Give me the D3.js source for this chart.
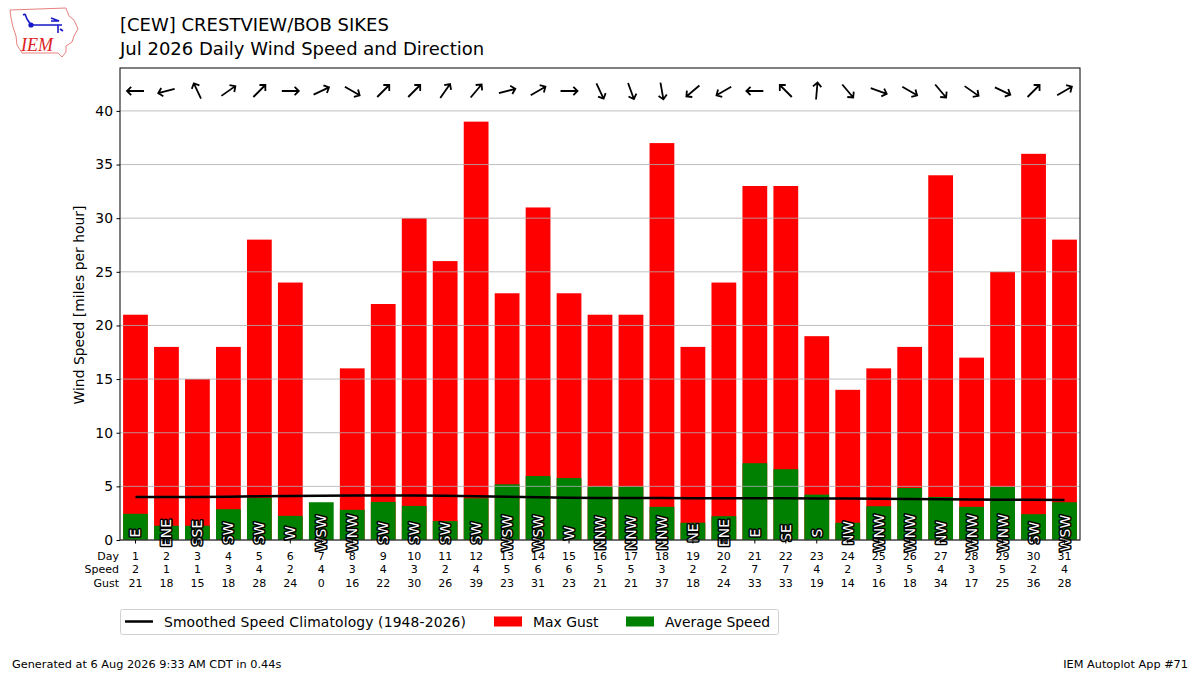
<!DOCTYPE html>
<html>
<head>
<meta charset="utf-8">
<script src="https://cdn.jsdelivr.net/npm/d3@7"></script>
<style>
  body { margin: 0; background: #fff; }
  svg { font-family: "DejaVu Sans", sans-serif; }
</style>
</head>
<body>
<svg id="chart" width="1200" height="675"></svg>
<script>
// daily values, Jul 2026 at CEW
const days = d3.range(1, 32);
const avgSpeed = [2.44, 1.33, 1.33, 2.87, 3.92, 2.25, 3.52, 2.81, 3.55, 3.18, 1.76, 3.89, 5.19, 5.96, 5.77,
    4.98, 4.98, 3.09, 1.61, 2.22, 7.16, 6.6, 4.23, 1.61, 3.15, 4.85, 4.01, 3.09, 4.94, 2.41, 3.52];
const maxGust = [21, 18, 15, 18, 28, 24, 0, 16, 22, 30, 26, 39, 23, 31, 23,
    21, 21, 37, 18, 24, 33, 33, 19, 14, 16, 18, 34, 17, 25, 36, 28];
const dirDeg = [90, 75, 155, 235, 225, 270, 245, 300, 225, 225, 215, 220, 255, 240, 270,
    335, 340, 350, 50, 60, 90, 135, 185, 320, 290, 300, 320, 305, 295, 225, 240];
const dirText = ['E', 'ENE', 'SSE', 'SW', 'SW', 'W', 'WSW', 'WNW', 'SW', 'SW', 'SW', 'SW', 'WSW', 'WSW', 'W',
    'NNW', 'NNW', 'NNW', 'NE', 'ENE', 'E', 'SE', 'S', 'NW', 'WNW', 'WNW', 'NW', 'WNW', 'WNW', 'SW', 'WSW'];
const climo = [4.0, 4.0, 4.0, 4.04, 4.07, 4.1, 4.12, 4.14, 4.15, 4.15, 4.12, 4.08, 4.03, 3.98, 3.94,
    3.92, 3.92, 3.91, 3.9, 3.9, 3.9, 3.9, 3.88, 3.87, 3.85, 3.83, 3.8, 3.78, 3.76, 3.75, 3.74];
const yTicks = [0, 5, 10, 15, 20, 25, 30, 35, 40];

const svg = d3.select('#chart');
const margin = {left: 120, right: 1080, top: 68, bottom: 540};

const x = d3.scaleLinear().domain([0.5, 31.5]).range([margin.left, margin.right]);
const y = d3.scaleLinear().domain([0, 44]).range([margin.bottom, margin.top]);
const barW = (x(2) - x(1)) * 0.8;

// bars
svg.append('g').selectAll('rect').data(days).join('rect')
    .attr('x', d => x(d) - barW / 2)
    .attr('width', barW)
    .attr('y', d => y(maxGust[d - 1]))
    .attr('height', d => y(0) - y(maxGust[d - 1]))
    .attr('fill', '#ff0000');

svg.append('g').selectAll('rect').data(days).join('rect')
    .attr('x', d => x(d) - barW / 2)
    .attr('width', barW)
    .attr('y', d => y(avgSpeed[d - 1]))
    .attr('height', d => y(0) - y(avgSpeed[d - 1]))
    .attr('fill', '#008000');

// grid on top of bars
svg.append('g').selectAll('line').data(yTicks).join('line')
    .attr('x1', margin.left).attr('x2', margin.right)
    .attr('y1', d => y(d)).attr('y2', d => y(d))
    .attr('stroke', '#b0b0b0').attr('stroke-width', 0.8);

// climatology
svg.append('path')
    .datum(days)
    .attr('d', d3.line().x(d => x(d)).y(d => y(climo[d - 1])))
    .attr('fill', 'none')
    .attr('stroke', '#000')
    .attr('stroke-width', 2.5);

// direction labels
svg.append('g').selectAll('text').data(days).join('text')
    .attr('transform', d => `translate(${x(d)},${y(0) - 7}) rotate(-90)`)
    .attr('text-anchor', 'middle')
    .attr('dominant-baseline', 'central')
    .attr('font-size', 13.9)
    .attr('fill', '#fff')
    .attr('stroke', '#000')
    .attr('stroke-width', 3)
    .attr('stroke-linejoin', 'round')
    .attr('paint-order', 'stroke')
    .text(d => dirText[d - 1]);

// direction arrows (pointing where the wind goes)
const arrowY = 91;
svg.append('g').selectAll('path').data(days).join('path')
    .attr('transform', d => `translate(${x(d)},${arrowY}) rotate(${dirDeg[d - 1] + 180})`)
    .attr('d', 'M0,8.5L0,-8.5M-4.2,-4.3L0,-8.5L4.2,-4.3')
    .attr('fill', 'none')
    .attr('stroke', '#000')
    .attr('stroke-width', 1.8);

// frame
svg.append('rect')
    .attr('x', margin.left).attr('y', margin.top)
    .attr('width', margin.right - margin.left)
    .attr('height', margin.bottom - margin.top)
    .attr('fill', 'none').attr('stroke', '#000').attr('stroke-width', 1);

// y axis
const yAxis = svg.append('g')
    .attr('transform', `translate(${margin.left},0)`)
    .call(d3.axisLeft(y).tickValues(yTicks).tickSize(3.5).tickPadding(3.5));
yAxis.select('.domain').remove();
yAxis.selectAll('text').attr('font-size', 13.9).attr('fill', '#000').attr('font-family', 'DejaVu Sans');
yAxis.selectAll('line').attr('stroke', '#000');

svg.append('text')
    .attr('transform', `translate(84,${(margin.top + margin.bottom) / 2 + 1}) rotate(-90)`)
    .attr('text-anchor', 'middle')
    .attr('font-size', 13.9)
    .text('Wind Speed [miles per hour]');

// x ticks
svg.append('g').selectAll('line').data(days).join('line')
    .attr('x1', d => x(d)).attr('x2', d => x(d))
    .attr('y1', margin.bottom).attr('y2', margin.bottom + 3.5)
    .attr('stroke', '#000');

// table under the axis
const rows = [
    {name: 'Day', vals: days, y: 559.5},
    {name: 'Speed', vals: avgSpeed.map(v => Math.round(v)), y: 573},
    {name: 'Gust', vals: maxGust, y: 586.5}
];
rows.forEach(r => {
    svg.append('text')
        .attr('x', 119).attr('y', r.y)
        .attr('text-anchor', 'end')
        .attr('font-size', 11)
        .text(r.name);
    svg.append('g').selectAll('text').data(days).join('text')
        .attr('x', d => x(d)).attr('y', r.y)
        .attr('text-anchor', 'middle')
        .attr('font-size', 11)
        .text(d => r.vals[d - 1]);
});

// titles
svg.append('text').attr('x', 120).attr('y', 31).attr('font-size', 18).text('[CEW] CRESTVIEW/BOB SIKES');
svg.append('text').attr('x', 120).attr('y', 55).attr('font-size', 18).text('Jul 2026 Daily Wind Speed and Direction');

// legend
const lg = svg.append('g');
lg.append('rect').attr('x', 120.5).attr('y', 609.5).attr('width', 658).attr('height', 25)
    .attr('rx', 2).attr('fill', '#fff').attr('stroke', '#d0d0d0');
lg.append('line').attr('x1', 125).attr('x2', 153).attr('y1', 621.5).attr('y2', 621.5)
    .attr('stroke', '#000').attr('stroke-width', 2.5);
lg.append('text').attr('x', 164).attr('y', 626.5).attr('font-size', 13.9)
    .attr('textLength', 302).text('Smoothed Speed Climatology (1948-2026)');
lg.append('rect').attr('x', 494).attr('y', 616.5).attr('width', 28).attr('height', 10).attr('fill', '#ff0000');
lg.append('text').attr('x', 533).attr('y', 626.5).attr('font-size', 13.9).text('Max Gust');
lg.append('rect').attr('x', 626).attr('y', 616.5).attr('width', 28).attr('height', 10).attr('fill', '#008000');
lg.append('text').attr('x', 665).attr('y', 626.5).attr('font-size', 13.9).text('Average Speed');

// footer
svg.append('text').attr('x', 12).attr('y', 668).attr('font-size', 11.3).text('Generated at 6 Aug 2026 9:33 AM CDT in 0.44s');
svg.append('text').attr('x', 1188).attr('y', 668).attr('font-size', 11.3).attr('text-anchor', 'end').text('IEM Autoplot App #71');

// rough IEM logo
const logo = svg.append('g');
logo.append('path')
    .attr('d', 'M10,10 L66,8 L69,16 L74,20 L78,29 L74,36 L72,42 L66,46 L66,52 L62,57 L58,53 L22,53 L17,45 L16,36 L13,27 L11,18 Z')
    .attr('fill', 'none').attr('stroke', '#e88080').attr('stroke-width', 1);
logo.append('path')
    .attr('d', 'M31,25 L62,25 M31,25 L27,19 M25,14 L27,19 M23,15 L25,14 M51,18 L59,21 L51,21 M58,25 L58,33 M60,29 L63,31')
    .attr('fill', 'none').attr('stroke', '#1818c8').attr('stroke-width', 1.6);
logo.append('circle').attr('cx', 31).attr('cy', 25).attr('r', 2.6).attr('fill', '#1818c8');
logo.append('text').attr('x', 21).attr('y', 51).attr('font-family', 'Liberation Serif, serif')
    .attr('font-style', 'italic').attr('font-size', 18).attr('fill', '#dd2222').text('IEM');
</script>
</body>
</html>
